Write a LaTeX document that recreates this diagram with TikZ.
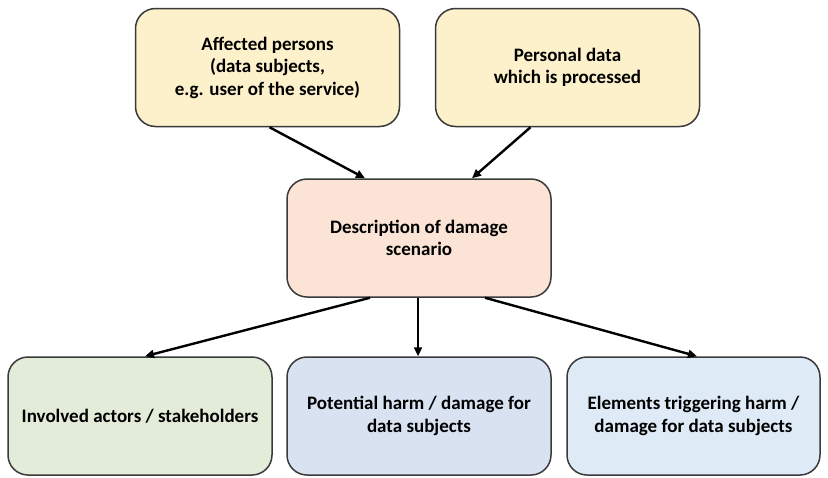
\documentclass[tikz,border=0pt]{standalone}
\usepackage{fontspec}
\setmainfont{Carlito}
\usetikzlibrary{arrows.meta,positioning,calc}
\definecolor{boxyellow}{HTML}{FDF1CB}
\definecolor{boxpeach}{HTML}{FBE3D5}
\definecolor{boxgreen}{HTML}{E2ECD9}
\definecolor{boxblue}{HTML}{D9E2F1}
\definecolor{boxsky}{HTML}{DEEAF6}
\definecolor{boxline}{HTML}{3A3A3A}
\tikzset{
box/.style={draw=boxline,line width=1.5pt,rounded corners=20pt,fill=#1,align=center,
  minimum width=264pt,minimum height=118pt,inner sep=0pt,font=\bfseries\fontsize{19}{22.5}\selectfont},
link/.style={-{Triangle[length=9pt,width=8pt]},line width=2.4pt,black},
}

\begin{document}
\begin{tikzpicture}[x=1pt,y=-1pt]
  \useasboundingbox (0,0) rectangle (828,477);
  \node[box=boxyellow] (affected) at (267.5,67.5) {Affected persons\\(data subjects,\\e.g. user of the service)};
  \node[box=boxyellow] (personal) at (567.5,67.5) {Personal data\\which is processed};
  \node[box=boxpeach] (scenario) at (419,238) {Description of damage\\scenario};
  \node[box=boxgreen] (actors) at (140,416) {Involved actors / stakeholders};
  \node[box=boxblue] (harm) at (419,416) {Potential harm / damage for\\data subjects};
  \node[box=boxsky,minimum width=253pt] (trigger) at (693.5,416) {Elements triggering harm /\\damage for data subjects};

  % arrows into the scenario
  \draw[link] ($(affected.south)+(2,0)$) -- ($(scenario.north)+(-54,0)$);
  \draw[link] ($(personal.south)+(-37,0)$) -- ($(scenario.north)+(53,0)$);
  % arrows out of the scenario
  \draw[link] ($(scenario.south)+(-49,0)$) -- ($(actors.north)+(5,0)$);
  \draw[link] ($(scenario.south)+(-1,0)$) -- ($(harm.north)+(-1,0)$);
  \draw[link] ($(scenario.south)+(66,0)$) -- ($(trigger.north)+(3.5,0)$);
\end{tikzpicture}
\end{document}
